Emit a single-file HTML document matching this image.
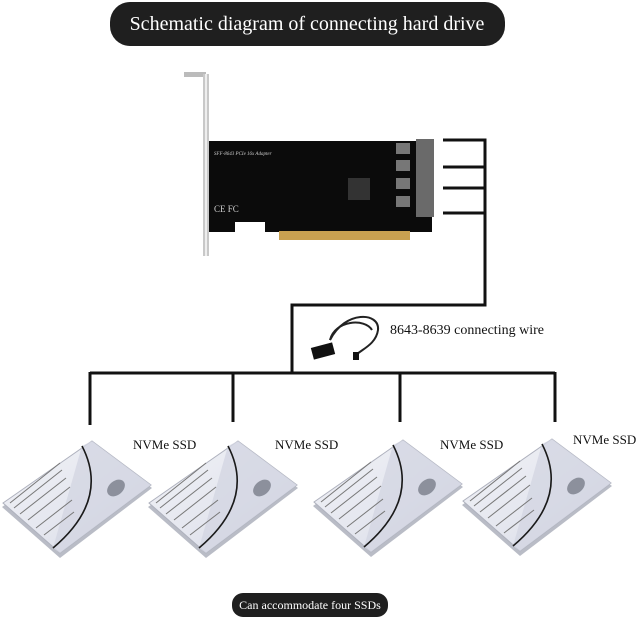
<!DOCTYPE html>
<html><head><meta charset="utf-8"><style>
html,body{margin:0;padding:0;background:#fff;width:640px;height:619px;overflow:hidden}
svg{display:block}
text{font-family:"Liberation Serif",serif}
</style></head><body>
<svg width="640" height="619" viewBox="0 0 640 619">
<defs>
<linearGradient id="ssd" x1="0" y1="0" x2="1" y2="1">
<stop offset="0" stop-color="#f2f3f7"/><stop offset="0.6" stop-color="#e3e5ee"/><stop offset="1" stop-color="#cfd2de"/>
</linearGradient>
<g id="drive">
<polygon points="92,443 152,488 60,558 2,507" fill="#b9bcc6"/>
<polygon points="92,441 151,485 60,553 3,503" fill="url(#ssd)" stroke="#aeb1bd" stroke-width="1"/>
<polygon points="82,446 92,441 151,485 60,553 53,548 Q110,500 82,446" fill="#d3d6e2" opacity="0.8"/>
<path d="M82,446 Q110,500 53,548" fill="none" stroke="#1a1a1a" stroke-width="1.6"/>
<ellipse cx="116" cy="488" rx="10" ry="7" transform="rotate(-40 116 488)" fill="#8c909c"/>
<g stroke="#777" stroke-width="1">
<line x1="10" y1="503" x2="60" y2="463"/><line x1="14" y1="508" x2="62" y2="470"/>
<line x1="20" y1="514" x2="66" y2="478"/><line x1="28" y1="520" x2="70" y2="487"/>
<line x1="36" y1="528" x2="72" y2="500"/><line x1="44" y1="535" x2="74" y2="512"/>
</g>
</g>
</defs>
<rect x="110" y="2" width="395" height="44" rx="20" fill="#1f1f1f"/>
<text x="307" y="30" font-size="20" fill="#fff" text-anchor="middle">Schematic diagram of connecting hard drive</text>

<rect x="184" y="72" width="22" height="5" fill="#bbb"/>
<rect x="203" y="74" width="6" height="182" fill="#c8c8c8"/>
<rect x="205" y="74" width="2" height="182" fill="#eee"/>
<path d="M209,141 H432 V232 H410 V240 H279 V232 H265 V222 H235 V232 H209 Z" fill="#0b0b0b"/>
<rect x="279" y="231" width="131" height="9" fill="#c8a050"/>
<g fill="#777"><rect x="396" y="143" width="14" height="11"/><rect x="396" y="160" width="14" height="11"/><rect x="396" y="178" width="14" height="11"/><rect x="396" y="196" width="14" height="11"/></g>
<rect x="416" y="139" width="18" height="78" fill="#6a6a6a"/>
<rect x="348" y="178" width="22" height="22" fill="#333"/>
<text x="214" y="155" font-size="5" fill="#ccc" font-style="italic">SFF-8643 PCIe 16x Adapter</text>
<text x="214" y="212" font-size="9" fill="#ccc" font-family="Liberation Sans">CE FC</text>

<g stroke="#111" stroke-width="3" fill="none">
<path d="M443,140 H485 V305 H292 V373"/>
<path d="M443,167 H485 M443,188 H485 M443,213 H485"/>
<path d="M90,373 H555"/>
<path d="M90,372 V425 M233,372 V422 M400,372 V422 M555,372 V422"/>
</g>
<g fill="none" stroke="#222" stroke-width="2">
<path d="M330,340 C345,310 380,312 378,330 C376,345 360,350 355,356"/>
<path d="M330,340 C335,320 365,318 372,330"/>
</g>
<rect x="312" y="345" width="22" height="12" fill="#111" transform="rotate(-15 323 351)"/>
<rect x="353" y="352" width="6" height="8" fill="#111"/>
<text x="390" y="334" font-size="14" fill="#111">8643-8639 connecting wire</text>

<use href="#drive"/>
<use href="#drive" transform="translate(146,0)"/>
<use href="#drive" transform="translate(311,-1)"/>
<use href="#drive" transform="translate(460,-2)"/>

<g font-size="13" fill="#111">
<text x="133" y="449">NVMe SSD</text>
<text x="275" y="449">NVMe SSD</text>
<text x="440" y="449">NVMe SSD</text>
<text x="573" y="444">NVMe SSD</text>
</g>
<rect x="232" y="593" width="156" height="24" rx="11" fill="#1f1f1f"/>
<text x="310" y="609" font-size="12" fill="#fff" text-anchor="middle">Can accommodate four SSDs</text>
</svg>
</body></html>
